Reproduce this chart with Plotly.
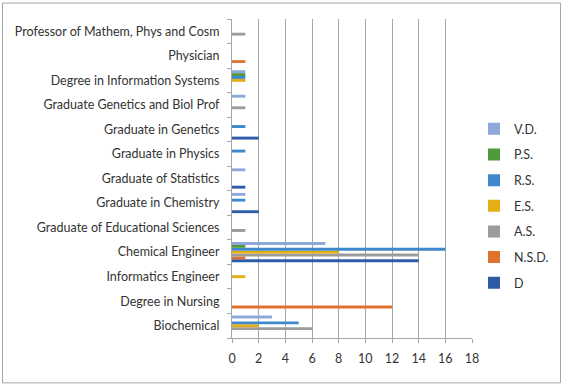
import plotly.graph_objects as go

categories = [
    "Biochemical",
    "Degree in Nursing",
    "Informatics Engineer",
    "Chemical Engineer",
    "Graduate of Educational Sciences",
    "Graduate in Chemistry",
    "Graduate of Statistics",
    "Graduate in Physics",
    "Graduate in Genetics",
    "Graduate Genetics and Biol Prof",
    "Degree in Information Systems",
    "Physician",
    "Professor of Mathem, Phys and Cosm",
]

# series values (same order as categories)
D   = [0, 0, 0, 14, 0, 2, 1, 0, 2, 0, 0, 0, 0]
NSD = [0, 12, 0, 1, 0, 0, 0, 0, 0, 0, 0, 1, 0]
AS  = [6, 0, 0, 14, 1, 0, 0, 0, 0, 1, 0, 0, 1]
ES  = [2, 0, 1, 8, 0, 0, 0, 0, 0, 0, 1, 0, 0]
RS  = [5, 0, 0, 16, 0, 1, 0, 1, 1, 0, 1, 0, 0]
PS  = [0, 0, 0, 1, 0, 0, 0, 0, 0, 0, 1, 0, 0]
VD  = [3, 0, 0, 7, 0, 1, 1, 0, 0, 1, 1, 0, 0]

series_names = ["D", "N.S.D.", "A.S.", "E.S.", "R.S.", "P.S.", "V.D."]
series_values = [D, NSD, AS, ES, RS, PS, VD]
series_colors = ["#2E5AA6", "#E0722F", "#9C9C9C", "#E4AE14", "#3F88CC", "#4F9A3A", "#8EA8DA"]

x_ticks = [0, 2, 4, 6, 8, 10, 12, 14, 16, 18]

fig = go.Figure()
n = len(series_names)
for i, (name, vals, col) in enumerate(zip(series_names, series_values, series_colors)):
    fig.add_trace(go.Bar(
        y=categories, x=vals, name=name, orientation="h",
        marker=dict(color=col, line=dict(width=0)),
        legendgroup=name, legendrank=n - i,
    ))

W, H = 567, 388
L, R, T, B = 232, 472, 18.5, 338.5
pw, ph = R - L, B - T

FONT = "Lato"
FS = 12.5

fig.update_layout(
    width=W, height=H,
    margin=dict(l=L, r=W - R, t=T, b=H - B, autoexpand=False),
    paper_bgcolor="white", plot_bgcolor="white",
    barmode="group", bargap=0.176, bargroupgap=0,
    font=dict(family=FONT, size=FS, color="#333333"),
    showlegend=True,
    legend=dict(
        x=(474 - L) / pw, y=(B - 114) / ph, xanchor="left", yanchor="top",
        traceorder="grouped", tracegroupgap=6.4,
        font=dict(family=FONT, size=FS, color="#333333"),
        itemwidth=30, bgcolor="rgba(0,0,0,0)",
    ),
    xaxis=dict(
        range=[0, 18], tickvals=x_ticks, ticktext=[str(v) for v in x_ticks],
        showgrid=True, gridcolor="#A6A6A6", gridwidth=1,
        showline=True, linecolor="#A6A6A6", linewidth=1,
        ticks="outside", ticklen=4, tickcolor="#A6A6A6",
        zeroline=False, fixedrange=True, automargin=False,
        ticklabelstandoff=5,
        tickfont=dict(size=FS, color="#333333"),
    ),
    yaxis=dict(
        type="category", categoryorder="array", categoryarray=categories,
        showline=True, linecolor="#A6A6A6", linewidth=1,
        ticks="outside", ticklen=4, tickcolor="#A6A6A6",
        tickson="boundaries", showgrid=False, automargin=False,
        ticklabelstandoff=9, fixedrange=True,
        tickfont=dict(size=FS, color="#333333"),
    ),
)

# outer chart border
fig.add_shape(
    type="rect", xref="paper", yref="paper",
    x0=(2.5 - L) / pw, x1=(560.5 - L) / pw,
    y0=(B - 383.5) / ph, y1=(B - 2.5) / ph,
    line=dict(color="#A6A6A6", width=1), fillcolor="rgba(0,0,0,0)",
    layer="below",
)

fig.write_html(
    "out.html",
    config={"displayModeBar": False},
    post_script="document.body.style.margin='0';document.body.style.padding='0';",
)
